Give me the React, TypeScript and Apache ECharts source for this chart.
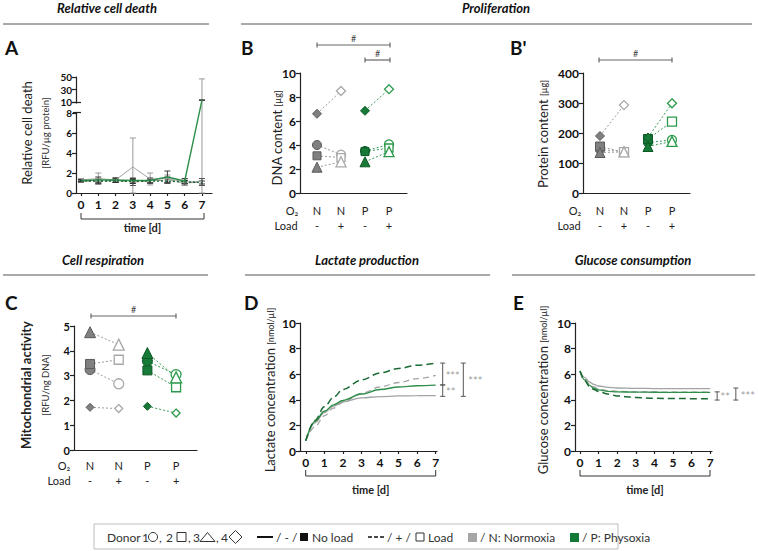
import React, { useEffect, useRef } from "react";
import * as echarts from "echarts";

const FONT = "Lato, 'Open Sans', 'DejaVu Sans', sans-serif";

// ---------- Panel A: relative cell death ----------
const deathDays = [0, 1, 2, 3, 4, 5, 6, 7];
const deathNNoLoad = [1.3, 1.45, 1.3, 2.6, 1.4, 1.45, 1.1, 1.15];
const deathNNoLoadSd = [0.15, 0.55, 0.25, 2.9, 0.6, 0.35, 0.3, 45.8];
const deathNLoad = [1.2, 1.15, 1.25, 1.1, 1.2, 1.3, 1.0, 1.1];
const deathNLoadSd = [0.1, 0.25, 0.2, 0.35, 0.2, 0.3, 0.2, 0.35];
const deathPNoLoad = [1.25, 1.3, 1.3, 1.25, 1.25, 1.6, 1.2, 13];
const deathPNoLoadSd = [0.1, 0.3, 0.2, 0.25, 0.25, 0.6, 0.25, 0.5];
const deathPLoad = [1.2, 1.2, 1.2, 1.15, 1.2, 1.2, 1.1, 1.05];
const deathPLoadSd = [0.1, 0.2, 0.15, 0.2, 0.2, 0.2, 0.15, 0.15];
const deathTickLabels = [0, 2, 4, 6, 8, 10, 30, 50];

// ---------- Panels B, B', C (donors 1..4: circle, square, triangle, diamond) ----------
const o2Labels = ["N", "N", "P", "P"];
const loadLabels = ["-", "+", "-", "+"];

const dnaNNoLoad = [4.0, 3.1, 2.15, 6.6];
const dnaNLoad = [3.2, 2.95, 2.6, 8.5];
const dnaPNoLoad = [3.5, 3.45, 2.6, 6.85];
const dnaPLoad = [4.05, 3.75, 3.45, 8.65];

const protNNoLoad = [145, 155, 135, 190];
const protNLoad = [138, 136, 137, 293];
const protPNoLoad = [168, 180, 155, 185];
const protPLoad = [177, 238, 172, 299];

const mitoNNoLoad = [3.24, 3.47, 4.75, 1.72];
const mitoNLoad = [2.67, 3.64, 4.25, 1.67];
const mitoPNoLoad = [3.58, 3.21, 3.91, 1.76];
const mitoPLoad = [3.04, 2.53, 2.93, 1.49];

// ---------- Panel D: lactate ----------
const lactateDays = [0, 0.5, 1, 1.5, 2, 3, 4, 5, 6, 7];
const lactateNNoLoad = [0.8, 2.2, 3.0, 3.5, 3.85, 4.15, 4.25, 4.3, 4.32, 4.33];
const lactateNLoad = [0.8, 1.9, 2.75, 3.35, 3.8, 4.5, 5.0, 5.35, 5.65, 5.9];
const lactatePNoLoad = [0.8, 2.3, 3.1, 3.6, 3.95, 4.45, 4.8, 5.0, 5.1, 5.15];
const lactatePLoad = [0.8, 2.4, 3.45, 4.2, 4.8, 5.55, 6.1, 6.45, 6.7, 6.87];
const lactateSigLow = [5.16, 4.27, 4.27];
const lactateSigHigh = [6.87, 5.16, 6.87];
const lactateSigText = ["***", "**", "***"];

// ---------- Panel E: glucose ----------
const glucoseDays = [0, 0.25, 0.5, 0.75, 1, 1.5, 2, 3, 4, 5, 6, 7];
const glucoseNNoLoad = [6.25, 5.75, 5.4, 5.2, 5.08, 4.97, 4.92, 4.89, 4.88, 4.87, 4.87, 4.87];
const glucoseNLoad = [6.25, 5.65, 5.25, 5.0, 4.85, 4.72, 4.66, 4.62, 4.61, 4.6, 4.6, 4.6];
const glucosePNoLoad = [6.25, 5.55, 5.15, 4.9, 4.78, 4.66, 4.62, 4.6, 4.59, 4.58, 4.58, 4.58];
const glucosePLoad = [6.25, 5.5, 5.05, 4.8, 4.65, 4.45, 4.3, 4.17, 4.12, 4.1, 4.09, 4.08];
const glucoseSigLow = [3.98, 3.98];
const glucoseSigHigh = [4.62, 4.92];
const glucoseSigText = ["**", "***"];

// ---------- styles ----------
const GRAY = "#a3a3a3";
const GREEN = "#2f8f4a";
const GREEN_DARK = "#1b6b35";
const AXIS = "#222";
const donorSymbols = ["circle", "rect", "triangle", "diamond"];

const grayFilled = { color: "#808080", borderColor: "#5a5a5a", borderWidth: 1 };
const grayOpen = { color: "#ffffff", borderColor: "#a8a8a8", borderWidth: 1.3 };
const greenFilled = { color: "#177a37", borderColor: "#0e5a27", borderWidth: 1 };
const greenOpen = { color: "#ffffff", borderColor: "#2c9a4c", borderWidth: 1.3 };

// broken y-axis of panel A: values above 10 are compressed (display units)
const brk = (v: number) => (v <= 8 ? v : 9.1 + (v - 10) * 0.0625);
const unbrk = (d: number) => (d <= 8.01 ? Math.round(d) : Math.round(10 + (d - 9.1) / 0.0625));

function yAx(gridIndex: number, min: number, max: number, interval?: number, extra: any = {}) {
  return {
    type: "value",
    gridIndex,
    min,
    max,
    interval,
    axisLine: { show: true, onZero: false, lineStyle: { color: AXIS, width: 1.2 } },
    axisTick: { show: true, length: 4, lineStyle: { color: AXIS, width: 1.2 }, ...(extra.axisTick || {}) },
    axisLabel: {
      fontFamily: FONT,
      fontWeight: "bold",
      fontSize: 12,
      color: "#111",
      margin: 4,
      ...(extra.axisLabel || {}),
    },
    splitLine: { show: false },
  };
}

function timeXAx(gridIndex: number, min: number, max: number) {
  const vals = [0, 1, 2, 3, 4, 5, 6, 7];
  return {
    type: "value",
    gridIndex,
    min,
    max,
    axisLine: { show: true, onZero: false, lineStyle: { color: AXIS, width: 1.2 } },
    axisTick: { show: true, length: 3, customValues: vals, lineStyle: { color: AXIS, width: 1.2 } },
    axisLabel: { customValues: vals, fontFamily: FONT, fontWeight: "bold", fontSize: 12, color: "#111", margin: 5 },
    splitLine: { show: false },
  };
}

function catXAx(gridIndex: number, min: number, max: number, margin: number) {
  return {
    type: "value",
    gridIndex,
    min,
    max,
    axisLine: { show: true, onZero: false, lineStyle: { color: AXIS, width: 1.2 } },
    axisTick: { show: false },
    axisLabel: {
      customValues: [0, 1, 2, 3],
      margin,
      formatter: (v: number) => `{o|${o2Labels[Math.round(v)]}}\n{l|${loadLabels[Math.round(v)]}}`,
      rich: {
        o: { fontFamily: FONT, fontSize: 11, color: "#222", lineHeight: 15 },
        l: { fontFamily: FONT, fontSize: 11, color: "#222", lineHeight: 15 },
      },
    },
    splitLine: { show: false },
  };
}

function pairSeries(axis: number, nNo: number[], nLoad: number[], pNo: number[], pLoad: number[], sizes: number[]) {
  const out: any[] = [];
  for (let d = 0; d < 4; d++) {
    out.push({
      type: "line",
      xAxisIndex: axis,
      yAxisIndex: axis,
      symbol: donorSymbols[d],
      symbolSize: sizes[d],
      showSymbol: true,
      silent: true,
      z: 3,
      lineStyle: { color: "#9a9a9a", width: 1, type: [2, 2] },
      data: [
        { value: [0, nNo[d]], itemStyle: grayFilled },
        { value: [1, nLoad[d]], itemStyle: grayOpen },
      ],
    });
    out.push({
      type: "line",
      xAxisIndex: axis,
      yAxisIndex: axis,
      symbol: donorSymbols[d],
      symbolSize: sizes[d],
      showSymbol: true,
      silent: true,
      z: 3,
      lineStyle: { color: "#3a9c57", width: 1, type: [2, 2] },
      data: [
        { value: [2, pNo[d]], itemStyle: greenFilled },
        { value: [3, pLoad[d]], itemStyle: greenOpen },
      ],
    });
  }
  return out;
}

function errSeries(mean: number[], sd: number[], color: string) {
  return {
    type: "custom",
    xAxisIndex: 0,
    yAxisIndex: 0,
    silent: true,
    z: 2,
    clip: false,
    data: deathDays.map((d, i) => [d, brk(Math.max(0, mean[i] - sd[i])), brk(mean[i] + sd[i])]),
    renderItem: (params: any, api: any) => {
      const x = api.value(0);
      const a = api.coord([x, api.value(2)]);
      const b = api.coord([x, api.value(1)]);
      const w = 3;
      const style = { stroke: color, lineWidth: 1 };
      return {
        type: "group",
        children: [
          { type: "line", shape: { x1: a[0], y1: a[1], x2: b[0], y2: b[1] }, style },
          { type: "line", shape: { x1: a[0] - w, y1: a[1], x2: a[0] + w, y2: a[1] }, style },
          { type: "line", shape: { x1: b[0] - w, y1: b[1], x2: b[0] + w, y2: b[1] }, style },
        ],
      };
    },
  };
}

function deathLine(vals: number[], color: string, type: any, width: number) {
  return {
    type: "line",
    xAxisIndex: 0,
    yAxisIndex: 0,
    showSymbol: false,
    silent: true,
    z: 3,
    lineStyle: { color, width, type },
    data: deathDays.map((d, i) => [d, brk(vals[i])]),
  };
}

function curve(axis: number, days: number[], vals: number[], color: string, type: any, width: number) {
  return {
    type: "line",
    xAxisIndex: axis,
    yAxisIndex: axis,
    showSymbol: false,
    silent: true,
    smooth: 0.35,
    smoothMonotone: "x",
    z: 3,
    lineStyle: { color, width, type },
    data: days.map((d, i) => [d, vals[i]]),
  };
}

function sigSeries(axis: number, lo: number[], hi: number[], texts: string[], offs: number[], textOffs: number[]) {
  return {
    type: "custom",
    xAxisIndex: axis,
    yAxisIndex: axis,
    silent: true,
    clip: false,
    z: 4,
    data: lo.map((l, i) => [7, l, hi[i]]),
    renderItem: (params: any, api: any) => {
      const i = params.dataIndex;
      const top = api.coord([7, api.value(2)]);
      const bot = api.coord([7, api.value(1)]);
      const x = top[0] + offs[i];
      const st = { stroke: "#555", lineWidth: 1 };
      return {
        type: "group",
        children: [
          { type: "line", shape: { x1: x, y1: top[1], x2: x, y2: bot[1] }, style: st },
          { type: "line", shape: { x1: x - 2.5, y1: top[1], x2: x + 2.5, y2: top[1] }, style: st },
          { type: "line", shape: { x1: x - 2.5, y1: bot[1], x2: x + 2.5, y2: bot[1] }, style: st },
          {
            type: "text",
            style: {
              x: x + textOffs[i],
              y: (top[1] + bot[1]) / 2 + 1,
              text: texts[i],
              fill: "#a0a0a0",
              fontSize: 11,
              fontFamily: FONT,
              align: "center",
              verticalAlign: "middle",
            },
          },
        ],
      };
    },
  };
}

// ---------- graphic helpers ----------
function txt(text: string, x: number, y: number, size: number, o: any = {}) {
  return {
    type: "text",
    x,
    y,
    rotation: o.rotation || 0,
    z: 50,
    style: {
      text,
      fill: o.color || "#222",
      fontSize: size,
      fontWeight: o.weight || "normal",
      fontStyle: o.style || "normal",
      fontFamily: FONT,
      align: o.align || "center",
      verticalAlign: "middle",
      rich: o.rich,
    },
  };
}
function ln(x1: number, y1: number, x2: number, y2: number, color = "#555", width = 1, dash?: number[]) {
  return { type: "line", z: 50, shape: { x1, y1, x2, y2 }, style: { stroke: color, lineWidth: width, lineDash: dash } };
}
function hashBracket(x1: number, x2: number, y: number) {
  return [
    ln(x1, y, x2, y, "#666", 1.2),
    ln(x1, y - 2.5, x1, y + 2.5, "#666", 1.2),
    ln(x2, y - 2.5, x2, y + 2.5, "#666", 1.2),
    txt("#", (x1 + x2) / 2, y - 7, 9, { color: "#444" }),
  ];
}
function timeBracket(x1: number, x2: number, y: number, labelY: number) {
  return [
    { type: "polyline", z: 50, shape: { points: [[x1, y - 6], [x1, y], [x2, y], [x2, y - 6]] }, style: { stroke: "#333", lineWidth: 1, fill: null } },
    txt("time [d]", (x1 + x2) / 2, labelY, 11, { weight: "bold" }),
  ];
}
const nameRich = (big: number, bigWeight = "normal") => ({
  a: { fontFamily: FONT, fontSize: big, fontWeight: bigWeight, color: "#222" },
  b: { fontFamily: FONT, fontSize: 9, color: "#333" },
});

function buildGraphic() {
  const g: any[] = [];
  // section titles and rules
  const T = { weight: "bold", style: "italic", color: "#111" };
  g.push(txt("Relative cell death", 107, 8, 13, T));
  g.push(txt("Proliferation", 496, 8, 13, T));
  g.push(txt("Cell respiration", 103, 260, 13, T));
  g.push(txt("Lactate production", 367, 260, 13, T));
  g.push(txt("Glucose consumption", 633, 260, 13, T));
  g.push(ln(3, 24, 209, 24, "#555", 1));
  g.push(ln(241, 24, 752, 24, "#555", 1));
  g.push(ln(3, 275, 208, 275, "#555", 1));
  g.push(ln(245, 275, 490, 275, "#555", 1));
  g.push(ln(512, 275, 755, 275, "#555", 1));
  // panel letters
  const P = { weight: "bold", align: "left", color: "#111" };
  g.push(txt("A", 5, 47, 19, P));
  g.push(txt("B", 241, 47, 19, P));
  g.push(txt("B'", 510, 47, 19, P));
  g.push(txt("C", 5, 302, 19, P));
  g.push(txt("D", 244, 302, 19, P));
  g.push(txt("E", 513, 302, 19, P));
  // axis names
  const R = Math.PI / 2;
  g.push(txt("Relative cell death", 27, 133, 13, { rotation: R }));
  g.push(txt("[RFU/µg protein]", 45, 133, 9.5, { rotation: R, color: "#333" }));
  g.push(txt("{a|DNA content} {b|[µg]}", 277, 138, 13, { rotation: R, rich: nameRich(13) }));
  g.push(txt("{a|Protein content} {b|[µg]}", 543, 134, 13, { rotation: R, rich: nameRich(13) }));
  g.push(txt("Mitochondrial activity", 26, 385, 13, { rotation: R, weight: "bold" }));
  g.push(txt("[RFU/ng DNA]", 45, 385, 9.5, { rotation: R, color: "#333" }));
  g.push(txt("{a|Lactate concentration} {b|[nmol/µl]}", 270, 390, 13, { rotation: R, rich: nameRich(13) }));
  g.push(txt("{a|Glucose concentration} {b|[nmol/µl]}", 543, 390, 13, { rotation: R, rich: nameRich(13) }));
  // O2 / Load row captions
  g.push(txt("O₂", 292, 210, 11));
  g.push(txt("Load", 286, 225, 11));
  g.push(txt("O₂", 575, 210, 11));
  g.push(txt("Load", 569, 225, 11));
  g.push(txt("O₂", 64, 465, 11));
  g.push(txt("Load", 59, 480, 11));
  // significance brackets (#)
  g.push(...hashBracket(317, 390, 45));
  g.push(...hashBracket(365, 390, 60));
  g.push(...hashBracket(599, 672, 60));
  g.push(...hashBracket(91, 176, 316));
  // time brackets
  g.push(...timeBracket(81, 204, 219, 227));
  g.push(...timeBracket(305.7, 435.7, 476, 489));
  g.push(...timeBracket(580, 710, 476, 489));
  // axis break in panel A
  g.push({ type: "rect", z: 100, shape: { x: 74, y: 103.5, width: 6, height: 8.5 }, style: { fill: "#fff" } });
  g.push({ ...ln(73, 102.5, 81, 102.5, "#222", 1.2), z: 101 });
  g.push({ ...ln(73, 112.5, 81, 112.5, "#222", 1.2), z: 101 });
  // legend
  const ly = 537;
  g.push({ type: "rect", z: 50, shape: { x: 94, y: 524, width: 524, height: 25 }, style: { stroke: "#bdbdbd", lineWidth: 1, fill: null } });
  const L = (t: string, x: number) => txt(t, x, ly, 12, { align: "left", color: "#333" });
  g.push(L("Donor", 107));
  g.push(L("1", 142));
  g.push({ type: "circle", z: 50, shape: { cx: 153, cy: ly, r: 4.5 }, style: { stroke: "#333", fill: "#fff", lineWidth: 1 } });
  g.push(L(",", 159));
  g.push(L("2", 166));
  g.push({ type: "rect", z: 50, shape: { x: 177, y: ly - 4.5, width: 9, height: 9 }, style: { stroke: "#333", fill: "#fff", lineWidth: 1 } });
  g.push(L(",", 188));
  g.push(L("3", 193));
  g.push({ type: "polygon", z: 50, shape: { points: [[200, ly + 4.5], [207.5, ly - 4.5], [215, ly + 4.5]] }, style: { stroke: "#333", fill: "#fff", lineWidth: 1 } });
  g.push(L(",", 216));
  g.push(L("4", 221));
  g.push({ type: "polygon", z: 50, shape: { points: [[229, ly], [235.5, ly - 6.5], [242, ly], [235.5, ly + 6.5]] }, style: { stroke: "#333", fill: "#fff", lineWidth: 1 } });
  g.push(ln(257, ly, 273, ly, "#111", 2));
  g.push(L("/ - /", 276));
  g.push({ type: "rect", z: 50, shape: { x: 300, y: ly - 4, width: 8, height: 8 }, style: { fill: "#111" } });
  g.push(L("No load", 312));
  g.push(ln(368, ly, 385, ly, "#111", 1.6, [4, 2]));
  g.push(L("/ + /", 387));
  g.push({ type: "rect", z: 50, shape: { x: 416, y: ly - 4, width: 8, height: 8 }, style: { stroke: "#333", fill: "#fff", lineWidth: 1 } });
  g.push(L("Load", 428));
  g.push({ type: "rect", z: 50, shape: { x: 468, y: ly - 4, width: 9, height: 9 }, style: { fill: "#a6a6a6" } });
  g.push(L("/ N: Normoxia", 480));
  g.push({ type: "rect", z: 50, shape: { x: 570, y: ly - 4, width: 9, height: 9 }, style: { fill: "#127a36" } });
  g.push(L("/ P: Physoxia", 582));
  return g;
}

function buildOption() {
  const deathDisp = deathTickLabels.map(brk);
  return {
    animation: false,
    backgroundColor: "#fff",
    grid: [
      { left: 76, top: 77, width: 136, height: 116 },
      { left: 300, top: 73, width: 107, height: 120 },
      { left: 583, top: 73, width: 107, height: 120 },
      { left: 74, top: 326, width: 123, height: 124 },
      { left: 300, top: 323, width: 137, height: 128 },
      { left: 575, top: 323, width: 137, height: 128 },
    ],
    xAxis: [
      timeXAx(0, -0.29, 7.58),
      catXAx(1, -0.708, 3.75, 10),
      catXAx(2, -0.708, 3.75, 10),
      catXAx(3, -0.56, 3.73, 8),
      timeXAx(4, -0.31, 7.07),
      timeXAx(5, -0.27, 7.1),
    ],
    yAxis: [
      yAx(0, 0, 11.6, undefined, {
        axisTick: { customValues: deathDisp },
        axisLabel: {
          customValues: deathDisp,
          fontSize: 10,
          lineHeight: 10,
          formatter: (v: number) => String(unbrk(v)),
        },
      }),
      yAx(1, 0, 10, 2),
      yAx(2, 0, 400, 100),
      yAx(3, 0, 5, 1, { axisLabel: { fontSize: 11, lineHeight: 11 } }),
      yAx(4, 0, 10, 2),
      yAx(5, 0, 10, 2),
    ],
    series: [
      errSeries(deathNNoLoad, deathNNoLoadSd, "#9a9a9a"),
      errSeries(deathNLoad, deathNLoadSd, "#555"),
      errSeries(deathPNoLoad, deathPNoLoadSd, "#3d3d3d"),
      errSeries(deathPLoad, deathPLoadSd, "#333"),
      deathLine(deathNNoLoad, GRAY, "solid", 1),
      deathLine(deathNLoad, "#888", [4, 2], 1),
      deathLine(deathPNoLoad, GREEN, "solid", 1.4),
      deathLine(deathPLoad, GREEN_DARK, [2, 2], 1.4),
      ...pairSeries(1, dnaNNoLoad, dnaNLoad, dnaPNoLoad, dnaPLoad, [9, 8, 10, 9]),
      ...pairSeries(2, protNNoLoad, protNLoad, protPNoLoad, protPLoad, [9, 9, 10, 9]),
      ...pairSeries(3, mitoNNoLoad, mitoNLoad, mitoPNoLoad, mitoPLoad, [10, 9, 11, 8]),
      curve(4, lactateDays, lactateNNoLoad, GRAY, "solid", 1.3),
      curve(4, lactateDays, lactateNLoad, GRAY, [6, 4], 1.3),
      curve(4, lactateDays, lactatePNoLoad, GREEN, "solid", 1.4),
      curve(4, lactateDays, lactatePLoad, GREEN_DARK, [7, 4], 1.5),
      curve(5, glucoseDays, glucoseNNoLoad, GRAY, "solid", 1.3),
      curve(5, glucoseDays, glucoseNLoad, GRAY, [6, 4], 1.3),
      curve(5, glucoseDays, glucosePNoLoad, GREEN, "solid", 1.3),
      curve(5, glucoseDays, glucosePLoad, GREEN_DARK, [7, 4], 1.5),
      sigSeries(4, lactateSigLow, lactateSigHigh, lactateSigText, [7, 7, 27.6], [10, 8, 12]),
      sigSeries(5, glucoseSigLow, glucoseSigHigh, glucoseSigText, [7, 25.7], [8, 12]),
    ],
    graphic: buildGraphic(),
  };
}

export default function App() {
  const ref = useRef<HTMLDivElement>(null);
  useEffect(() => {
    if (!ref.current) return;
    const chart = echarts.init(ref.current, null, { renderer: "svg" });
    chart.setOption(buildOption() as any);
    return () => chart.dispose();
  }, []);
  return (
    <div
      ref={ref}
      style={{ position: "fixed", left: 0, top: 0, width: 758, height: 551, background: "#fff" }}
    />
  );
}
